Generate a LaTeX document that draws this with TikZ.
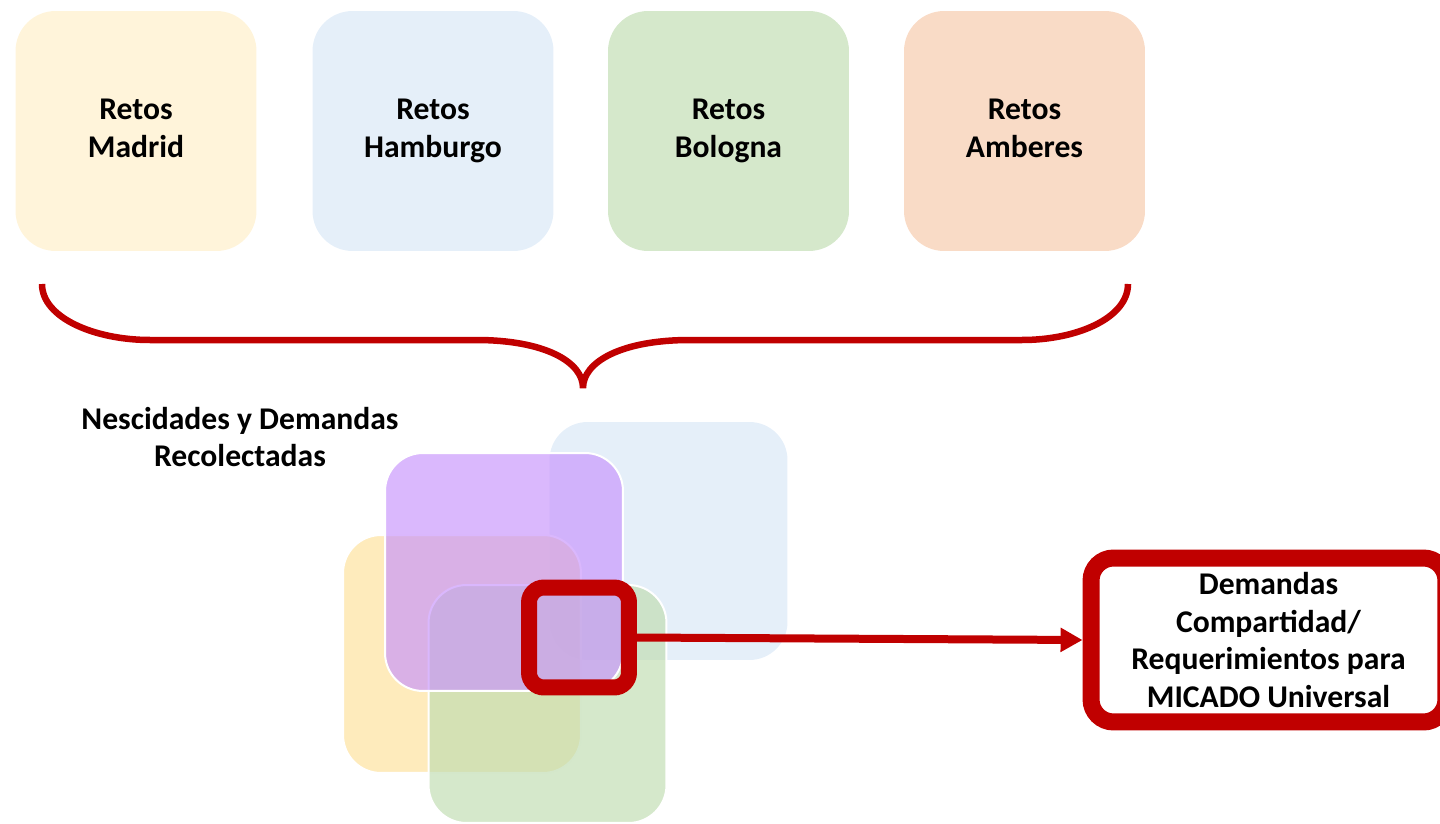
\documentclass[tikz,border=0pt]{standalone}
\usepackage{fontspec}
\setmainfont{Carlito}
\usetikzlibrary{arrows.meta}

\definecolor{micadored}{HTML}{C00000}
\definecolor{madridfill}{HTML}{FFF4DA}
\definecolor{hamburgofill}{HTML}{E5EFF9}
\definecolor{bolognafill}{HTML}{D5E8CB}
\definecolor{amberesfill}{HTML}{F9DBC6}
\definecolor{layerblue}{RGB}{216,231,246}
\definecolor{layeryellow}{RGB}{254,225,154}
\definecolor{layergreen}{RGB}{191,220,176}
\definecolor{layerpurple}{RGB}{199,147,252}

\tikzset{
    label text/.style={align=center, font=\fontsize{18}{21.6}\selectfont\bfseries},
    reto/.style={label text, rounded corners=0.8cm, minimum width=4.82cm, minimum height=4.8cm},
    layer/.style={rounded corners=0.76cm, minimum width=4.76cm, minimum height=4.76cm,
                  fill opacity=0.66, draw=white, line width=0.04cm},
}

\begin{document}
\begin{tikzpicture}[x=0.02cm, y=-0.02cm]
    \useasboundingbox (0,0) rectangle (1440,824);
    \clip (0,0) rectangle (1440,824);

    \node[reto, fill=madridfill]   (madrid)   at (136,131)    {\strut Retos\\Madrid\strut};
    \node[reto, fill=hamburgofill] (hamburgo) at (433,131)    {\strut Retos\\Hamburgo\strut};
    \node[reto, fill=bolognafill]  (bologna)  at (728.5,131)  {\strut Retos\\Bologna\strut};
    \node[reto, fill=amberesfill]  (amberes)  at (1024.5,131) {\strut Retos\\Amberes\strut};

    % brace
    \draw[micadored, line width=0.13cm]
        (42,284) .. controls (42,318) and (95,340) .. (150,340) -- (476,340)
        .. controls (545,340) and (583,362) .. (583,388)
        .. controls (583,362) and (621,340) .. (690,340) -- (1022,340)
        .. controls (1077,340) and (1128,318) .. (1128,284);

    \node[label text] (recolectadas) at (240,437) {Nescidades y Demandas\\Recolectadas};

    \node[layer, fill=layerblue, draw=none] (lblue)   at (668.5,541) {};
    \node[layer, fill=layeryellow]          (lyellow) at (462,654)   {};
    \node[layer, fill=layergreen]           (lgreen)  at (547.5,704) {};
    \node[layer, fill=layerpurple]          (lpurple) at (504,572)   {};

    \node[draw=micadored, line width=0.32cm, rounded corners=0.3cm, minimum size=2cm] (focus) at (579,637.5) {};

    \node[label text, draw=micadored, fill=white, line width=0.34cm, rounded corners=0.45cm,
          minimum width=7.1cm, minimum height=3.28cm] (shared) at (1268.5,640)
          {Demandas\\Compartidad/\\Requerimientos para\\MICADO Universal};

    \draw[micadored, line width=0.16cm, -{Triangle[length=0.44cm, width=0.46cm]}] (focus.east) -- (shared.west);
\end{tikzpicture}
\end{document}
